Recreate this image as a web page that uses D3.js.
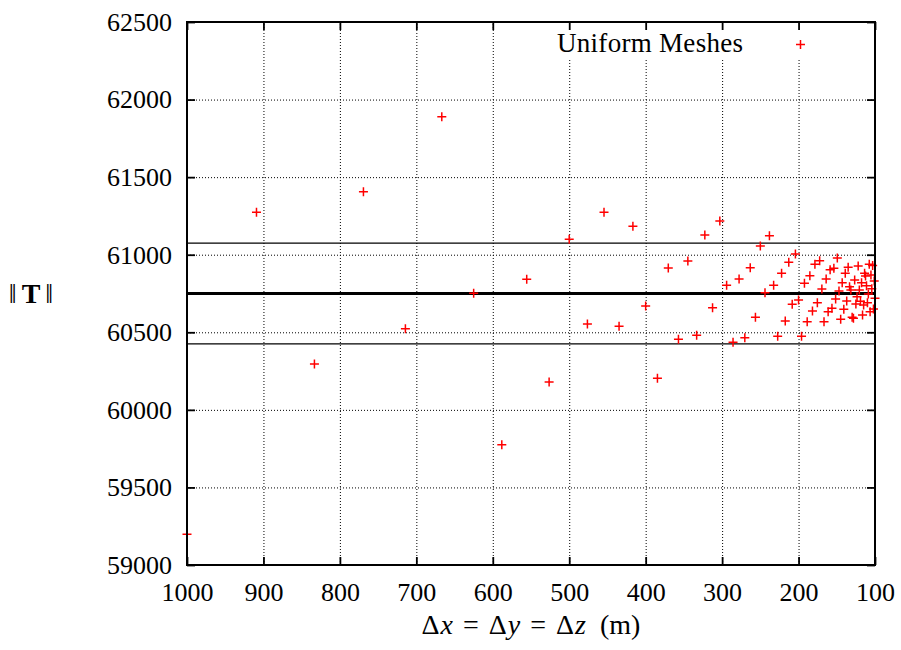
<!DOCTYPE html>
<html>
<head>
<meta charset="utf-8">
<script src="https://cdn.jsdelivr.net/npm/d3@7"></script>
<style>
  body { margin: 0; background: #fff; }
</style>
</head>
<body>
<div id="chart"></div>
<script>

// mesh spacing (m) and norm of T for each uniform mesh
const spacing = [1000, 909.1, 833.3, 769.2, 714.3, 666.7, 625, 588.2, 555.6, 526.3,
    500, 476.2, 454.5, 434.8, 416.7, 400, 384.6, 370.4, 357.1, 344.8,
    333.3, 322.6, 312.5, 303, 294.1, 285.7, 277.8, 270.3, 263.2, 256.4,
    250, 243.9, 238.1, 232.6, 227.3, 222.2, 217.4, 212.8, 208.3, 204.1,
    200, 196.1, 192.3, 188.7, 185.2, 181.8, 178.6, 175.4, 172.4, 169.5,
    166.7, 163.9, 161.3, 158.7, 156.3, 153.8, 151.5, 149.3, 147.1, 144.9,
    142.9, 140.8, 138.9, 137, 135.1, 133.3, 131.6, 129.9, 128.2, 126.6,
    125, 123.5, 122, 120.5, 119, 117.6, 116.3, 114.9, 113.6, 112.4,
    111.1, 109.9, 108.7, 107.5, 106.4, 105.3, 104.2, 103.1, 102, 101, 100];

const normT = [59198, 61273, 60295, 61406, 60523, 61890, 60751, 59775, 60842, 60180,
    61099, 60553, 61273, 60539, 61183, 60669, 60203, 60914, 60455, 60959,
    60481, 61127, 60658, 61217, 60803, 60435, 60843, 60465, 60916, 60597,
    61056, 60755, 61122, 60803, 60474, 60880, 60573, 60951, 60680, 61005,
    60708, 60474, 60816, 60568, 60865, 60637, 60938, 60691, 60961, 60779,
    60568, 60843, 60633, 60903, 60655, 60912, 60715, 60979, 60766, 60584,
    60820, 60648, 60880, 60702, 60919, 60794, 60773, 60597, 60590, 60837,
    60682, 60729, 60927, 60773, 60700, 60820, 60611, 60676, 60880, 60863,
    60800, 60690, 60747, 60938, 60633, 60870, 60780, 60930, 60650, 60830, 60720];

// upper band, mean, lower band
const refLevels = [61075, 60750, 60425];

const xTicks = [1000, 900, 800, 700, 600, 500, 400, 300, 200, 100];
const yTicks = [59000, 59500, 60000, 60500, 61000, 61500, 62000, 62500];

const seriesName = "Uniform Meshes";

const data = spacing.map((d, i) => ({ dx: d, norm: normT[i] }));

const serif = "'Liberation Serif', 'DejaVu Serif', serif";
const cross = "M-4.5,0H4.5M0,-4.5V4.5";

const width = 901,
    height = 650,
    margin = ({ top: 22, right: 26, bottom: 85, left: 187 });

let svg = d3.select("#chart")
    .append("svg")
    .attr("width", width)
    .attr("height", height)
    .attr("font-family", serif);

let x = d3.scaleLinear()
    .domain([1000, 100]) // reversed, coarse meshes on the left
    .range([margin.left, width - margin.right]);

let y = d3.scaleLinear()
    .domain([59000, 62500])
    .range([height - margin.bottom, margin.top]);

const plotW = width - margin.left - margin.right,
    plotH = height - margin.top - margin.bottom;

/* dotted grid */
svg.append("g")
    .attr("transform", `translate(0,${height - margin.bottom})`)
    .call(d3.axisBottom(x).tickValues(xTicks).tickSize(-plotH).tickFormat(""))
    .call(g => g.select(".domain").remove())
    .selectAll("line")
    .attr("stroke", "#000")
    .attr("stroke-dasharray", "1,2");

svg.append("g")
    .attr("transform", `translate(${margin.left},0)`)
    .call(d3.axisLeft(y).tickValues(yTicks).tickSize(-plotW).tickFormat(""))
    .call(g => g.select(".domain").remove())
    .selectAll("line")
    .attr("stroke", "#000")
    .attr("stroke-dasharray", "1,2");

/* key box hides the grid behind it */
svg.append("rect")
    .attr("x", 545)
    .attr("y", margin.top + 2)
    .attr("width", 272)
    .attr("height", 35)
    .attr("fill", "#fff");

svg.append("text")
    .attr("x", 743)
    .attr("y", 52)
    .attr("text-anchor", "end")
    .style("font-size", "27px")
    .attr("textLength", 186)
    .text(seriesName);

svg.append("path")
    .attr("transform", "translate(800.5,44.5)")
    .attr("d", cross)
    .attr("stroke", "#ff0000")
    .attr("stroke-width", 1.5);

/* mean and +/- band lines */
svg.selectAll(".ref")
    .data(refLevels)
    .join("line")
    .attr("class", "ref")
    .attr("x1", margin.left)
    .attr("x2", width - margin.right)
    .attr("y1", d => y(d))
    .attr("y2", d => y(d))
    .attr("stroke", "#000")
    .attr("stroke-width", (d, i) => i == 1 ? 2.8 : 1.3);

/* points */
svg.selectAll(".pt")
    .data(data)
    .join("path")
    .attr("class", "pt")
    .attr("transform", d => `translate(${x(d.dx)},${y(d.norm)})`)
    .attr("d", cross)
    .attr("stroke", "#ff0000")
    .attr("stroke-width", 1.5);

/* border + mirrored inward ticks */
function styleTicks(g) {
    g.attr("font-family", serif).attr("font-size", 26);
    g.select(".domain").remove();
    g.selectAll(".tick line").attr("stroke", "#000").attr("stroke-width", 1.8);
    g.selectAll(".tick text").attr("fill", "#000");
}

svg.append("g")
    .attr("transform", `translate(0,${height - margin.bottom})`)
    .call(d3.axisBottom(x).tickValues(xTicks).tickSize(-8).tickPadding(18).tickFormat(d3.format("d")))
    .call(styleTicks);

svg.append("g")
    .attr("transform", `translate(0,${margin.top})`)
    .call(d3.axisTop(x).tickValues(xTicks).tickSize(-8).tickFormat(""))
    .call(styleTicks);

svg.append("g")
    .attr("transform", `translate(${margin.left},0)`)
    .call(d3.axisLeft(y).tickValues(yTicks).tickSize(-8).tickPadding(15).tickFormat(d3.format("d")))
    .call(styleTicks);

svg.append("g")
    .attr("transform", `translate(${width - margin.right},0)`)
    .call(d3.axisRight(y).tickValues(yTicks).tickSize(-8).tickFormat(""))
    .call(styleTicks);

svg.append("rect")
    .attr("x", margin.left)
    .attr("y", margin.top)
    .attr("width", plotW)
    .attr("height", plotH)
    .attr("fill", "none")
    .attr("stroke", "#000")
    .attr("stroke-width", 2);

/* axis titles */
let xl = svg.append("text")
    .attr("x", 531)
    .attr("y", 634)
    .attr("text-anchor", "middle")
    .style("font-size", "28px");
xl.append("tspan").text("Δ");
xl.append("tspan").attr("dx", 1).style("font-style", "italic").text("x");
xl.append("tspan").attr("dx", 10).text("=");
xl.append("tspan").attr("dx", 10).text("Δ");
xl.append("tspan").attr("dx", 1).style("font-style", "italic").text("y");
xl.append("tspan").attr("dx", 10).text("=");
xl.append("tspan").attr("dx", 10).text("Δ");
xl.append("tspan").attr("dx", 1).style("font-style", "italic").text("z");
xl.append("tspan").attr("dx", 14).text("(m)");

let yl = svg.append("text")
    .attr("x", 31)
    .attr("y", 303)
    .attr("text-anchor", "middle")
    .style("font-size", "28px");
yl.append("tspan").text("‖");
yl.append("tspan").attr("dx", 5).style("font-weight", "bold").text("T");
yl.append("tspan").attr("dx", 5).text("‖");

</script>
</body>
</html>
